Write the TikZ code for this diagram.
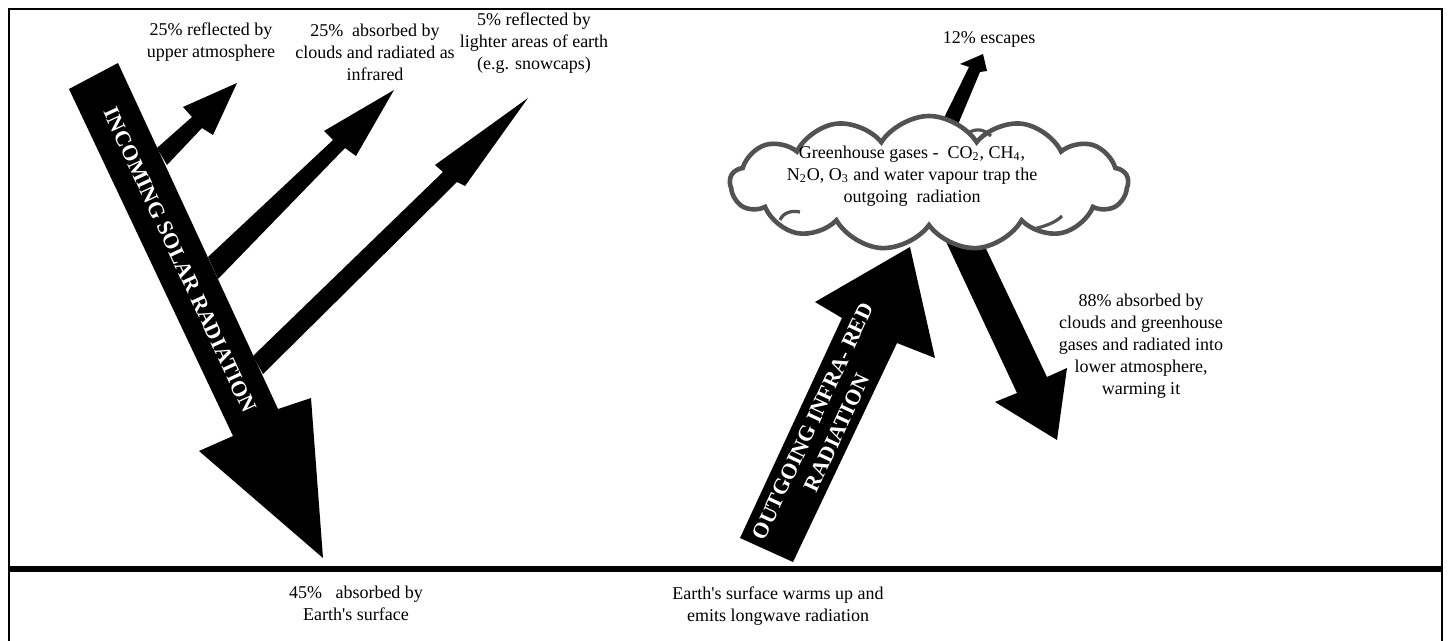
\documentclass[tikz,border=0pt]{standalone}
\usepackage{fontspec}
\setmainfont{Liberation Serif}
\usetikzlibrary{shapes.symbols}
\begin{document}
\begin{tikzpicture}[x=0.5pt,y=-0.5pt,
  lbl/.style={font=\fontsize{9}{11}\selectfont, align=center, inner sep=0pt, anchor=north},
  boldlbl/.style={font=\fontsize{11}{13.5}\selectfont\bfseries, text=white, align=center, inner sep=0pt},
  blk/.style={fill=black},
  frame/.style={line width=1.4pt},
  cloudline/.style={draw=black!68, line width=2.3pt},
  cloudshape/.style={cloud, cloud puffs=13, cloud puff arc=115, cloud ignores aspect,
    minimum width=199pt, minimum height=67pt, cloudline, fill=white, inner sep=0pt}]
\useasboundingbox (0,0) rectangle (1449,641);
% frame
\draw[frame] (9,660) -- (9,9) -- (1442,9) -- (1442,660);
\draw[line width=2.8pt] (9,569) -- (1442,569);

% incoming solar radiation
\fill[blk] (69,89) -- (118,63) -- (278,409) -- (311,398) -- (323,558) -- (199,451) -- (233,436) -- cycle;
% branches
\fill[blk] (157,148) -- (192,117) -- (183,107) -- (237,83) -- (213,135) -- (202,128) -- (167,165) -- cycle;
\fill[blk] (208,257) -- (333,140) -- (324,131) -- (394,90) -- (356,156) -- (345,148) -- (218,279) -- cycle;
\fill[blk] (253,356) -- (443,172) -- (435,165) -- (528,98) -- (465,186) -- (457,182) -- (263,374) -- cycle;
\node[boldlbl, rotate=-65] (incoming) at (180,260) {INCOMING SOLAR RADIATION};

% outgoing infra-red
\fill[blk] (740,538) -- (842,318) -- (815,302) -- (910,247) -- (935,358) -- (897,343) -- (793,562) -- cycle;
\node[boldlbl, rotate=65] (outgoing) at (825,427) {OUTGOING INFRA- RED\\RADIATION};

% 12% escapes arrow
\fill[blk] (937,132) -- (969,67) -- (960,64) -- (983,54) -- (987,71) -- (980,72) -- (954,134) -- cycle;
% 88% absorbed arrow
\fill[blk] (934,216) -- (969,213) -- (1047,377) -- (1067,368) -- (1057,440) -- (995,402) -- (1017,393) -- cycle;

% cloud
\node[cloudshape] (cloud) at (929,183) {};
\draw[cloudline, line width=1.6pt] (968,133) .. controls (976,128) and (984,129) .. (991,136);
\draw[cloudline, line width=1.6pt] (780,220) .. controls (783,213) and (791,210) .. (800,212);
\draw[cloudline, line width=1.6pt] (1034,229) .. controls (1045,226) and (1055,223) .. (1062,216);
\node[lbl] (cloudtext) at (912,146) {Greenhouse gases - ~CO\textsubscript{2}, CH\textsubscript{4},\\N\textsubscript{2}O, O\textsubscript{3} and water vapour trap the\\outgoing ~radiation};

% labels
\node[lbl] (l1) at (211,22) {25\% reflected by\\upper atmosphere};
\node[lbl] (l2) at (375,24) {25\% ~absorbed by\\clouds and radiated as\\infrared};
\node[lbl] (l3) at (534,12) {5\% reflected by\\lighter areas of earth\\(e.g. snowcaps)};
\node[lbl] (l4) at (989,31) {12\% escapes};
\node[lbl] (l5) at (1141,294) {88\% absorbed by\\clouds and greenhouse\\gases and radiated into\\lower atmosphere,\\warming it};
\node[lbl] (l6) at (356,586) {45\% ~~absorbed by\\Earth\textquotesingle s surface};
\node[lbl] (l7) at (778,586) {Earth\textquotesingle s surface warms up and\\emits longwave radiation};
\end{tikzpicture}
\end{document}
